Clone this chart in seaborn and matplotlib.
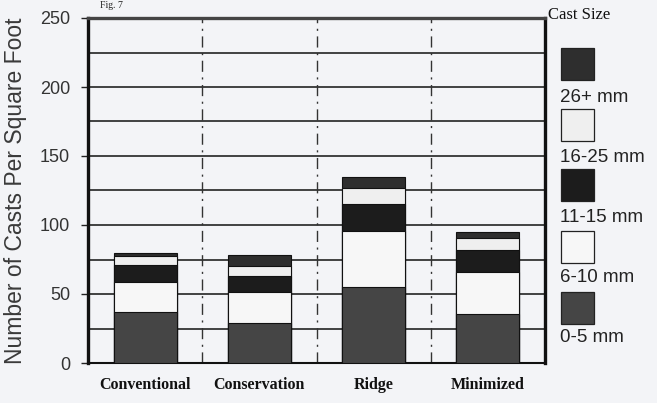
import numpy as np
import pandas as pd
import matplotlib
matplotlib.use("Agg")
import matplotlib.pyplot as plt
from matplotlib.patches import Rectangle
import seaborn as sns

categories = ["Conventional", "Conservation", "Ridge", "Minimized"]
sizes = ["0-5 mm", "6-10 mm", "11-15 mm", "16-25 mm", "26+ mm"]
v_0_5 = [37, 29, 55, 35.5]
v_6_10 = [22, 22.5, 41, 30.5]
v_11_15 = [12, 11.5, 19, 16]
v_16_25 = [6.5, 7, 12, 8.5]
v_26p = [2.5, 8, 8, 4.5]
yticks = [0, 50, 100, 150, 200, 250]

colors = {"0-5 mm": "#454545", "6-10 mm": "#f7f7f7", "11-15 mm": "#1c1c1c",
          "16-25 mm": "#efefef", "26+ mm": "#2e2e2e"}
bg = "#f3f4f7"

segs = [v_0_5, v_6_10, v_11_15, v_16_25, v_26p]
cum = np.cumsum(np.array(segs), axis=0)

sns.set_style("white")
fig = plt.figure(figsize=(6.57, 4.03), dpi=100, facecolor=bg)
ax = fig.add_axes([88/657, 1-363/403, (545-88)/657, (363-18)/403])
ax.set_facecolor(bg)

for i in range(len(sizes) - 1, -1, -1):
    df = pd.DataFrame({"cat": categories, "val": cum[i]})
    sns.barplot(data=df, x="cat", y="val", color=colors[sizes[i]], width=0.55,
                edgecolor="#111111", linewidth=0.8, saturation=1, ax=ax, zorder=3)

ax.set_ylim(0, 250)
ax.set_xlim(-0.5, 3.5)
ax.set_yticks(yticks)
ax.set_yticklabels([str(t) for t in yticks], fontsize=13, color="#333333",
                   family="Liberation Sans")
for y in np.arange(25, 250, 25):
    ax.axhline(y, color="#111111", lw=1.1, zorder=1)
for x in [0.5, 1.5, 2.5]:
    ax.axvline(x, color="#333333", lw=1.0, ls=(0, (8, 4, 1.5, 4)), zorder=1)

ax.set_xticks(range(4))
ax.set_xticklabels(categories, fontsize=11.5, family="Liberation Serif",
                   fontweight="bold", color="#111111")
ax.tick_params(axis="x", length=0, pad=10)
ax.tick_params(axis="y", length=5, width=1, color="#222222", pad=8, left=True)
ax.set_xlabel("")
ax.set_ylabel("Number of Casts Per Square Foot", fontsize=16.5, color="#3a3a3a",
              family="Liberation Sans", labelpad=9)

for side in ["left", "right"]:
    ax.spines[side].set_visible(True)
    ax.spines[side].set_color("#111111")
    ax.spines[side].set_linewidth(2.4)
ax.spines["top"].set_color("#444444")
ax.spines["top"].set_linewidth(2.4)
ax.spines["bottom"].set_color("#111111")
ax.spines["bottom"].set_linewidth(1.5)

# legend
fig.text(548/657, 1-15/403, "Cast Size", fontsize=12, family="Liberation Serif",
         color="#111111", va="center", ha="left")
patch_tops = [48, 109, 169, 231, 292]
label_y = [97, 157, 217, 278, 338]
legend_order = ["26+ mm", "16-25 mm", "11-15 mm", "6-10 mm", "0-5 mm"]
for name, pt, ly in zip(legend_order, patch_tops, label_y):
    fig.patches.append(Rectangle((561/657, 1-(pt+32)/403), 33/657, 32/403,
                                 transform=fig.transFigure, facecolor=colors[name],
                                 edgecolor="#222222", lw=0.9))
    fig.text(560/657, 1-ly/403, name, fontsize=13.5, family="Liberation Sans",
             color="#222222", va="center", ha="left")

fig.text(100/657, 1-1/403, "Fig. 7", fontsize=7, family="Liberation Serif",
         color="#222222", va="top", ha="left")

fig.savefig("out.png", dpi=100, facecolor=bg)
